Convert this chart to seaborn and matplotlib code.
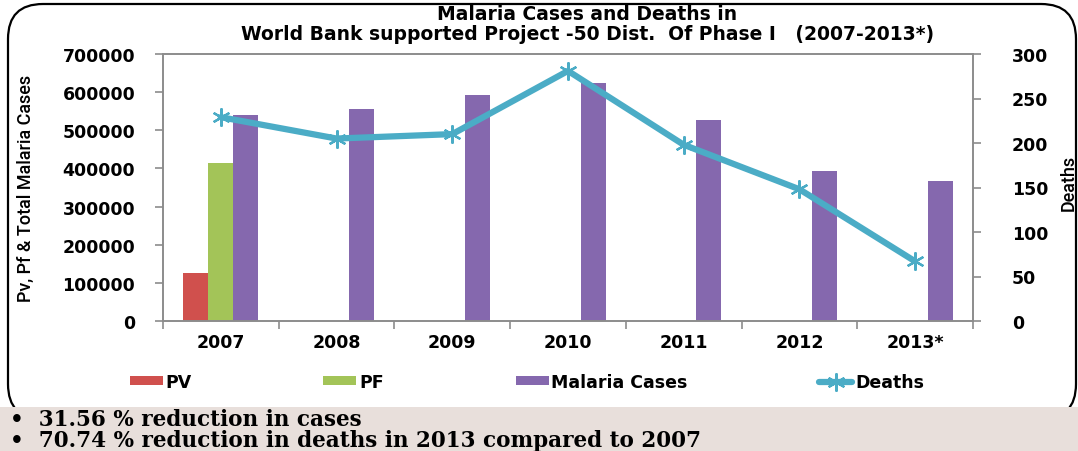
import numpy as np
import pandas as pd
import matplotlib
matplotlib.use("Agg")
import matplotlib.pyplot as plt
from matplotlib.patches import FancyBboxPatch, Rectangle, Patch
from matplotlib.lines import Line2D
import seaborn as sns

years = ["2007", "2008", "2009", "2010", "2011", "2012", "2013*"]
pv = [125000, np.nan, np.nan, np.nan, np.nan, np.nan, np.nan]
pf = [415000, np.nan, np.nan, np.nan, np.nan, np.nan, np.nan]
malaria_cases = [539000, 555000, 593000, 625000, 528000, 392000, 368000]
deaths = [229, 205, 210, 281, 198, 148, 67]
series_names = ["PV", "PF", "Malaria Cases"]
colors = {"PV": "#D0504D", "PF": "#A3C458", "Malaria Cases": "#8568AE"}
line_color = "#4BACC6"
left_ticks = [0, 100000, 200000, 300000, 400000, 500000, 600000, 700000]
right_ticks = [0, 50, 100, 150, 200, 250, 300]
title_lines = ["Malaria Cases and Deaths in",
               "World Bank supported Project -50 Dist.  Of Phase I   (2007-2013*)"]
notes = ["31.56 % reduction in cases", "70.74 % reduction in deaths in 2013 compared to 2007"]

sns.set_style("white")
plt.rcParams["font.family"] = ["DejaVu Sans"]
plt.rcParams["text.color"] = "black"
plt.rcParams["axes.labelcolor"] = "black"

df = pd.DataFrame({
    "Year": years * 3,
    "Type": ["PV"] * 7 + ["PF"] * 7 + ["Malaria Cases"] * 7,
    "Cases": pv + pf + malaria_cases,
})

W, H = 1078, 452
fig = plt.figure(figsize=(W / 100, H / 100), dpi=100)
ax = fig.add_axes([163 / W, 1 - 322 / H, (973 - 163) / W, (322 - 55) / H])

sns.barplot(data=df, x="Year", y="Cases", hue="Type", hue_order=series_names,
            order=years, palette=colors, width=0.65, gap=0, errorbar=None,
            saturation=1, legend=False, ax=ax, edgecolor="none")

ax2 = ax.twinx()
xpos = np.arange(len(years))
sns.lineplot(x=xpos, y=deaths, ax=ax2, color=line_color, linewidth=4.5,
             marker=(6, 2, 0), markersize=13, markeredgewidth=1.6,
             markeredgecolor=line_color, zorder=5)

ax.set_xlim(-0.5, len(years) - 0.5)
ax.set_ylim(0, 700000)
ax2.set_ylim(0, 300)
ax.set_yticks(left_ticks)
ax.set_yticklabels([str(t) for t in left_ticks])
ax2.set_yticks(right_ticks)
ax2.set_yticklabels([str(t) for t in right_ticks])
ax.set_xticks(xpos)
ax.set_xticklabels(years)
ax.set_xticks(np.arange(-0.5, len(years), 1), minor=True)
ax.tick_params(axis="x", which="major", length=0, pad=9, labelsize=12.5, labelcolor="black")
ax.tick_params(axis="x", which="minor", length=6, width=1.2, color="#8C8C8C", direction="out", bottom=True)
ax.tick_params(axis="y", length=6, width=1.2, color="#8C8C8C", direction="out", left=True,
               labelsize=12.5, pad=14, labelcolor="black")
ax2.tick_params(axis="y", length=6, width=1.2, color="#8C8C8C", direction="out", right=True,
                labelsize=12.5, pad=22, labelcolor="black")
for a in (ax, ax2):
    for lab in a.get_xticklabels() + a.get_yticklabels():
        lab.set_fontweight("bold")
    for s in a.spines.values():
        s.set_color("#8C8C8C")
        s.set_linewidth(1.2)
ax.set_xlabel("")
ax.set_ylabel("Pv, Pf & Total Malaria Cases", family=["Roboto", "DejaVu Sans"], fontsize=13,
              fontweight="medium")
ax2.set_ylabel("Deaths", family=["Roboto", "DejaVu Sans"], fontsize=13, fontweight="medium")
ax.yaxis.set_label_coords(-0.158, 0.5)
ax2.yaxis.set_label_coords(1.107, 0.52)

for i, line in enumerate(title_lines):
    fig.text(0.545, 1 - (15 + 19 * i) / H, line, ha="center", va="center", fontsize=13.5,
             fontweight="bold")

handles = [Patch(facecolor=colors[n], edgecolor="none") for n in series_names]
handles.append(Line2D([], [], color=line_color, linewidth=4.5, marker=(6, 2, 0),
                      markersize=13, markeredgewidth=1.6))
leg = fig.legend(handles, series_names + ["Deaths"], loc="center left",
                 bbox_to_anchor=(114 / W, 1 - 383 / H), ncol=4, frameon=False,
                 handlelength=1.9, handleheight=0.45, handletextpad=0.15,
                 columnspacing=7.6, prop={"weight": "bold", "size": 12.5})

border = FancyBboxPatch((0.08, 0.32), 10.68, 4.15, boxstyle="round,pad=0,rounding_size=0.35",
                        transform=fig.dpi_scale_trans, facecolor="none", edgecolor="black",
                        linewidth=1.6, zorder=0)
fig.patches.append(border)
bottom_box = Rectangle((0, 0), 10.78, 0.44, transform=fig.dpi_scale_trans,
                       facecolor="#E8DFDB", edgecolor="none", zorder=1)
fig.patches.append(bottom_box)
for i, note in enumerate(notes):
    fig.text(10 / W, 1 - (420 + 21 * i) / H, "\u2022  " + note, ha="left", va="center",
             family=["DejaVu Serif"], fontweight="bold", fontsize=15.5, zorder=3)

fig.savefig("out.png", dpi=100)
